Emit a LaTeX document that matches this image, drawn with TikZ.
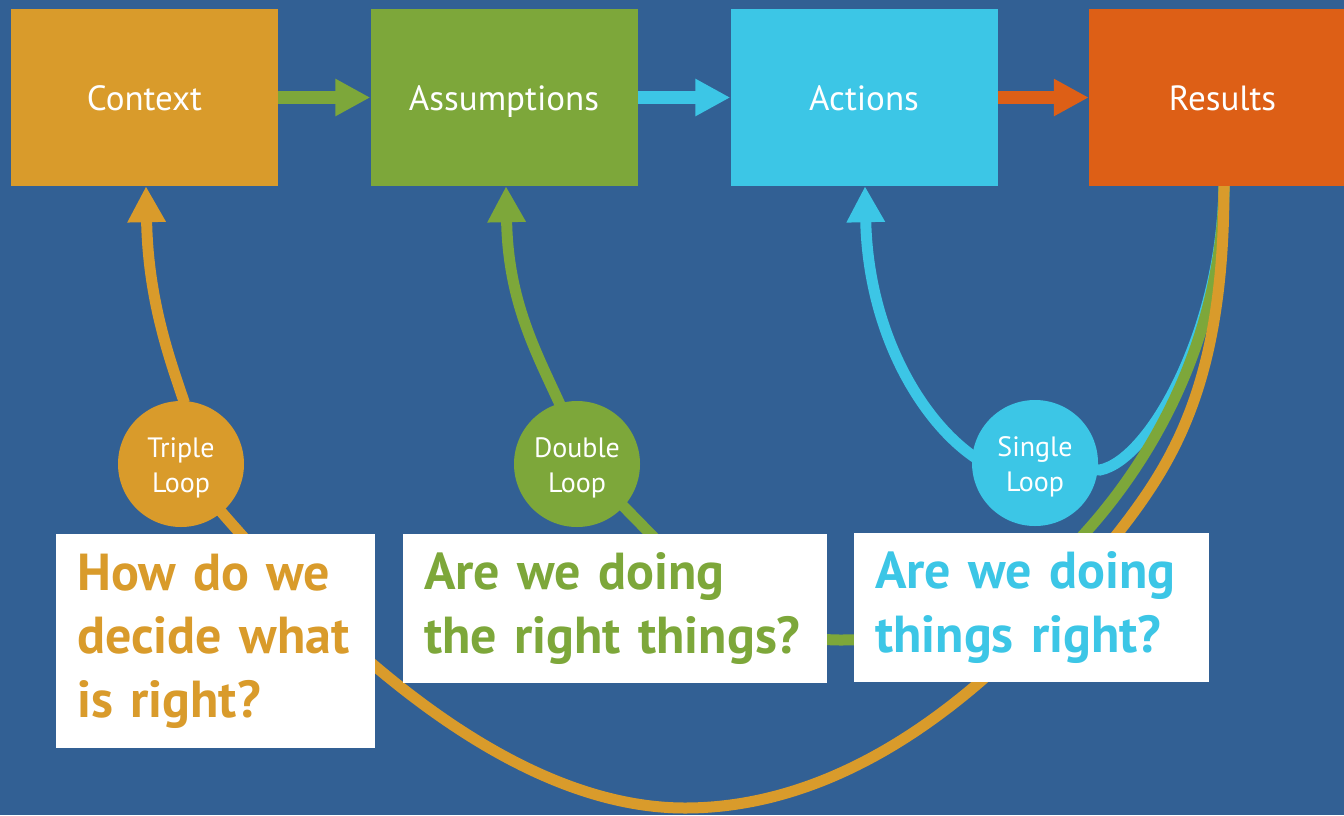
\documentclass[tikz,border=0pt]{standalone}
\usepackage{fontspec}
\setmainfont{PT Sans}
\usetikzlibrary{arrows.meta}
\definecolor{bgc}{HTML}{326094}
\definecolor{orc}{HTML}{D99B2B}
\definecolor{grc}{HTML}{7DA73A}
\definecolor{cyc}{HTML}{3CC6E6}
\definecolor{rdc}{HTML}{DD5F16}
\tikzset{
  topbox/.style={rectangle, minimum width=267pt, minimum height=177pt, inner sep=0pt, text=white, text height=30pt, text depth=5pt, font=\fontsize{35}{40}\selectfont},
  loopc/.style={circle, minimum size=126pt, inner sep=0pt, text=white, align=center, text height=60pt, text depth=4pt, font=\fontsize{28}{35}\selectfont},
  qbox/.style={rectangle, fill=white, inner xsep=21pt, inner ysep=0pt, align=left, anchor=north west, font=\bfseries\fontsize{52}{63.5}\selectfont},
  harrow/.style={line width=13pt, -{Triangle[length=35pt,width=35pt]}},
  looparrow/.style={line width=11pt, -{Triangle[length=36pt,width=36pt]}},
  loopline/.style={line width=11pt}
}
\begin{document}
\begin{tikzpicture}[x=1pt,y=-1pt]
\fill[bgc] (0,0) rectangle (1344,815);
\useasboundingbox (0,0) rectangle (1344,815);
% top boxes
\node[topbox, fill=orc] (ctx) at (144.5,97.5) {Context};
\node[topbox, fill=grc] (asm) at (504,97.5) {Assumptions};
\node[topbox, fill=cyc] (act) at (864,97.5) {Actions};
\node[topbox, fill=rdc] (res) at (1222.5,97.5) {Results};
% circle positions
\path (1035,463) coordinate (slc) (577,464) coordinate (dlc) (181,464) coordinate (tlc);
% lower loop lines
\draw[loopline, cyc] ([xshift=1.5pt]res.south) .. controls (1222,330) and (1150,460) .. (1100,470) -- (slc);
\draw[loopline, grc] ([xshift=1.5pt]res.south) .. controls (1222,330) and (1160,450) .. (1085,533)
   .. controls (1010,616) and (930,640) .. (840,640) .. controls (720,640) and (660,530) .. (dlc);
\draw[loopline, orc] ([xshift=1.5pt]res.south) .. controls (1224,380) and (1175,460) .. (1118,533)
   .. controls (1061,606) and (900,808) .. (685,808) .. controls (470,808) and (260,560) .. (tlc);
% circles
\node[loopc, fill=orc] (tl) at (tlc) {Triple\\Loop};
\node[loopc, fill=grc] (dl) at (dlc) {Double\\Loop};
\node[loopc, fill=cyc] (sl) at (slc) {Single\\Loop};
% upper loop arrows
\draw[looparrow, orc] ([shift={(-2pt,-2pt)}]tl.85) .. controls (170,360) and (148,300) .. ([xshift=1.5pt]ctx.south);
\draw[looparrow, grc] ([shift={(2pt,-2pt)}]dl.107) .. controls (535,350) and (508,300) .. ([xshift=2pt]asm.south);
\draw[looparrow, cyc] ([xshift=3pt]sl.175) .. controls (920,420) and (868,330) .. ([xshift=1pt]act.south);
% horizontal arrows
\draw[harrow, grc] (ctx.east) -- (asm.west);
\draw[harrow, cyc] (asm.east) -- (act.west);
\draw[harrow, rdc] (act.east) -- (res.west);
% question boxes
\node[qbox, text=orc, text width=277pt, minimum height=214pt] (q1) at (56,534) {How do we\\decide what\\is right?};
\node[qbox, text=grc, text width=382pt, minimum height=149pt] (q2) at (403,534) {Are we doing\\the right things?};
\node[qbox, text=cyc, text width=313pt, minimum height=149pt] (q3) at (854,533) {Are we doing\\things right?};
\end{tikzpicture}
\end{document}
